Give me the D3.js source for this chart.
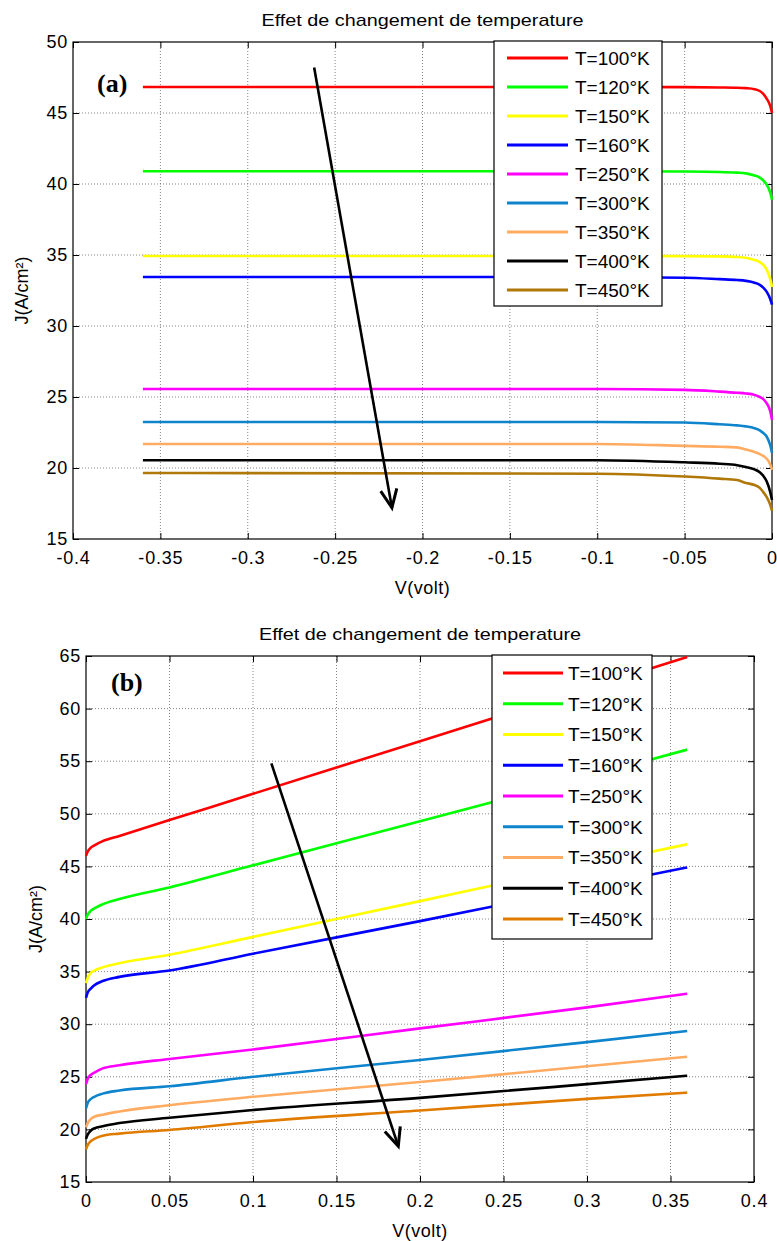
<!DOCTYPE html>
<html><head><meta charset="utf-8">
<script src="https://cdn.jsdelivr.net/npm/d3@7"></script>
<style>
body{margin:0;background:#fff;}
text{font-family:"Liberation Sans",Arial,sans-serif;fill:#000;}
</style></head>
<body><svg id="c" width="777" height="1241"></svg>
<script>
// ---------- DATA ----------
const labels = ["T=100°K","T=120°K","T=150°K","T=160°K","T=250°K","T=300°K","T=350°K","T=400°K","T=450°K"];
const colorsA = ["#ff0000","#00ff00","#ffff00","#0000ff","#ff00ff","#0e84cc","#ffab62","#000000","#b07808"];
const colorsB = ["#ff0000","#00ff00","#ffff00","#0000ff","#ff00ff","#0e84cc","#ffab62","#000000","#e07b00"];

// (a) reverse bias
const vA = [-0.36,-0.1,-0.05,-0.03,-0.02,-0.015,-0.01,-0.007,-0.005,-0.003,-0.001,0];
const jA100 = [46.83,46.83,46.82,46.8,46.78,46.75,46.68,46.55,46.35,46.0,45.5,45.0];
const jA120 = [40.9,40.9,40.88,40.85,40.8,40.75,40.6,40.45,40.25,39.95,39.4,38.9];
const jA150 = [34.93,34.93,34.92,34.9,34.86,34.8,34.65,34.5,34.3,33.95,33.3,32.75];
const jA160 = [33.45,33.45,33.4,33.3,33.24,33.18,33.05,32.9,32.7,32.4,31.9,31.5];
const jA250 = [25.56,25.56,25.5,25.38,25.3,25.25,25.15,25.0,24.85,24.55,24.0,23.4];
const jA300 = [23.24,23.24,23.2,23.08,23.0,22.93,22.8,22.65,22.46,22.2,21.6,21.06];
const jA350 = [21.69,21.69,21.56,21.5,21.45,21.3,21.13,20.98,20.85,20.65,20.25,19.86];
const jA400 = [20.55,20.55,20.4,20.3,20.2,20.07,19.9,19.7,19.45,19.05,18.3,17.75];
const jA450 = [19.65,19.6,19.4,19.25,19.15,18.95,18.8,18.6,18.3,17.95,17.4,17.0];

// (b) forward bias
const vB = [0,0.001,0.003,0.005,0.01,0.02,0.05,0.1,0.2,0.3,0.36];
const jB100 = [46.0,46.4,46.8,47.0,47.4,47.9,49.4,51.9,56.9,61.9,64.9];
const jB120 = [40.0,40.4,40.8,41.0,41.4,41.9,43.0,45.1,49.3,53.5,56.1];
const jB150 = [33.9,34.4,34.9,35.1,35.4,35.8,36.6,38.3,41.7,45.1,47.1];
const jB160 = [32.5,33.0,33.4,33.7,34.1,34.5,35.1,36.7,39.8,43.0,44.9];
const jB250 = [24.3,24.8,25.2,25.4,25.8,26.1,26.7,27.6,29.6,31.6,32.9];
const jB300 = [22.0,22.5,22.9,23.1,23.4,23.7,24.1,25.0,26.6,28.3,29.35];
const jB350 = [20.2,20.6,21.0,21.2,21.4,21.7,22.3,23.1,24.5,26.0,26.9];
const jB400 = [19.1,19.5,19.9,20.1,20.3,20.6,21.1,21.85,23.0,24.3,25.1];
const jB450 = [18.1,18.5,18.9,19.1,19.4,19.6,19.95,20.7,21.8,22.9,23.5];

const xTicksA = [-0.4,-0.35,-0.3,-0.25,-0.2,-0.15,-0.1,-0.05,0];
const yTicksA = [15,20,25,30,35,40,45,50];
const xTicksB = [0,0.05,0.1,0.15,0.2,0.25,0.3,0.35,0.4];
const yTicksB = [15,20,25,30,35,40,45,50,55,60,65];
const arrowA = [[-0.262,48.2],[-0.2175,17.2]];
const arrowB = [[0.111,54.8],[0.187,18.4]];
const title = "Effet de changement de temperature";

// ---------- DRAW ----------
const svg = d3.select("#c");

function panel(o){
  const g = svg.append("g");
  const x = d3.scaleLinear().domain(o.xd).range([o.L,o.R]);
  const y = d3.scaleLinear().domain(o.yd).range([o.B,o.T]);
  // grid
  g.append("g").selectAll("line").data(o.xt.slice(1,-1)).join("line")
    .attr("x1",d=>x(d)).attr("x2",d=>x(d)).attr("y1",o.T).attr("y2",o.B)
    .attr("stroke","#666").attr("stroke-width",0.8).attr("stroke-dasharray","1,2");
  g.append("g").selectAll("line").data(o.yt.slice(1,-1)).join("line")
    .attr("y1",d=>y(d)).attr("y2",d=>y(d)).attr("x1",o.L).attr("x2",o.R)
    .attr("stroke","#666").attr("stroke-width",0.8).attr("stroke-dasharray","1,2");
  // axes
  const fmt = d=>String(+d.toFixed(2));
  const ax = (gen, tr)=>{
    const a = g.append("g").attr("transform",tr).call(gen);
    a.select(".domain").remove();
    a.selectAll("text").style("font-family","'Liberation Sans',Arial,sans-serif").style("font-size","18px").style("letter-spacing","0.8px");
    return a;
  };
  ax(d3.axisBottom(x).tickValues(o.xt).tickFormat(fmt).tickSizeInner(-6).tickPadding(12),`translate(0,${o.B})`);
  ax(d3.axisLeft(y).tickValues(o.yt).tickFormat(fmt).tickSizeInner(-6).tickPadding(5),`translate(${o.L},0)`);
  ax(d3.axisTop(x).tickValues(o.xt).tickFormat("").tickSizeInner(-6),`translate(0,${o.T})`);
  ax(d3.axisRight(y).tickValues(o.yt).tickFormat("").tickSizeInner(-6),`translate(${o.R},0)`);
  g.append("rect").attr("x",o.L).attr("y",o.T).attr("width",o.R-o.L).attr("height",o.B-o.T)
    .attr("fill","none").attr("stroke","#000").attr("stroke-width",1.2);
  // curves
  const line = d3.line().curve(d3.curveMonotoneX).x(d=>x(d[0])).y(d=>y(d[1]));
  o.series.forEach((s,i)=>{
    g.append("path").datum(o.v.map((v,k)=>[v,s[k]])).attr("d",line)
      .attr("fill","none").attr("stroke",o.colors[i]).attr("stroke-width",2.6);
  });
  // arrow
  const p0=[x(o.arrow[0][0]),y(o.arrow[0][1])], p1=[x(o.arrow[1][0]),y(o.arrow[1][1])];
  const ang=Math.atan2(p1[1]-p0[1],p1[0]-p0[0]), hl=20, ha=0.42;
  g.append("line").attr("x1",p0[0]).attr("y1",p0[1]).attr("x2",p1[0]).attr("y2",p1[1])
    .attr("stroke","#000").attr("stroke-width",2.6);
  g.append("path").attr("d",`M${p1[0]-hl*Math.cos(ang-ha)},${p1[1]-hl*Math.sin(ang-ha)}L${p1[0]},${p1[1]}L${p1[0]-hl*Math.cos(ang+ha)},${p1[1]-hl*Math.sin(ang+ha)}`)
    .attr("fill","none").attr("stroke","#000").attr("stroke-width",3).attr("stroke-linejoin","miter");
  // legend
  const lg=o.leg;
  g.append("rect").attr("x",lg.x0).attr("y",lg.y0).attr("width",lg.x1-lg.x0).attr("height",lg.y1-lg.y0)
    .attr("fill","#fff").attr("stroke","#000").attr("stroke-width",1.2);
  labels.forEach((t,i)=>{
    const yy=lg.c0+i*lg.dy;
    g.append("line").attr("x1",lg.l0).attr("x2",lg.l1).attr("y1",yy).attr("y2",yy)
      .attr("stroke",o.colors[i]).attr("stroke-width",3);
    g.append("text").attr("x",lg.tx).attr("y",yy).attr("dy","0.36em")
      .style("font-size","19px").text(t);
  });
  // title, labels
  g.append("text").attr("x",(o.L+o.R)/2).attr("y",o.T-16).attr("text-anchor","middle")
    .style("font-size","17px").attr("textLength",322).attr("lengthAdjust","spacingAndGlyphs").text(title);
  g.append("text").attr("x",(o.L+o.R)/2).attr("y",o.B+55).attr("text-anchor","middle")
    .style("font-size","18px").style("letter-spacing","0.5px").text("V(volt)");
  g.append("text").attr("transform",`translate(${o.ylx},${(o.T+o.B)/2}) rotate(-90)`).attr("text-anchor","middle")
    .style("font-size","18px").text("J(A/cm²)");
  g.append("text").attr("x",o.tag[0]).attr("y",o.tag[1])
    .style("font-family","'Liberation Serif','Times New Roman',serif").style("font-weight","bold").style("font-size","26px")
    .text(o.tagText);
}

panel({L:73,R:772,T:42,B:539,xd:[-0.4,0],yd:[15,50],xt:xTicksA,yt:yTicksA,v:vA,
  series:[jA100,jA120,jA150,jA160,jA250,jA300,jA350,jA400,jA450],colors:colorsA,arrow:arrowA,
  leg:{x0:494,x1:662,y0:41,y1:306,c0:58,dy:29,l0:507,l1:568,tx:575},ylx:28,tag:[97,92],tagText:"(a)"});
panel({L:86,R:754,T:656,B:1182,xd:[0,0.4],yd:[15,65],xt:xTicksB,yt:yTicksB,v:vB,
  series:[jB100,jB120,jB150,jB160,jB250,jB300,jB350,jB400,jB450],colors:colorsB,arrow:arrowB,
  leg:{x0:492,x1:652,y0:655,y1:939,c0:673,dy:30.75,l0:503,l1:563,tx:568},ylx:42,tag:[111,691],tagText:"(b)"});
</script></body></html>
